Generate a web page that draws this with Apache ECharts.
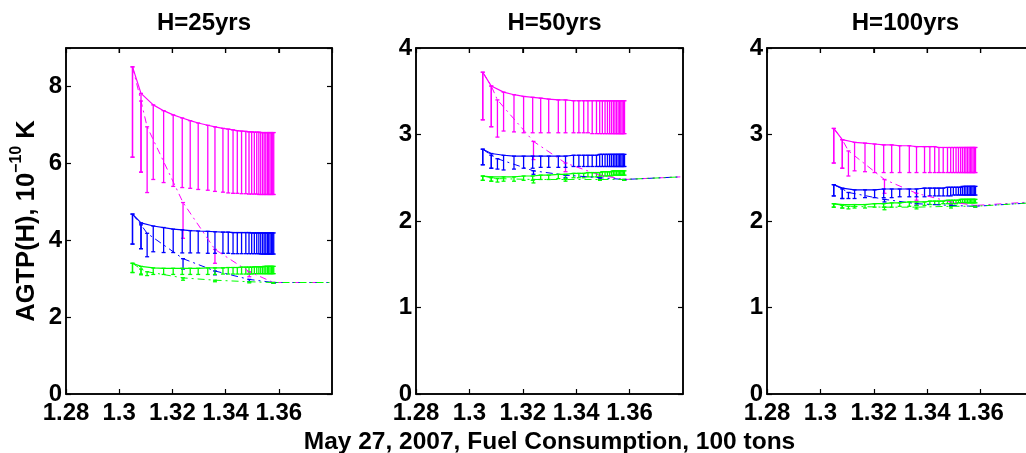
<!DOCTYPE html>
<html><head><meta charset="utf-8">
<script src="https://cdn.jsdelivr.net/npm/echarts@6/dist/echarts.min.js"></script>
<style>html,body{margin:0;padding:0;background:#fff}#c{width:1026px;height:453px}</style>
</head><body><div id="c"></div>
<script>
// ---- data ----
const titles = ['H=25yrs', 'H=50yrs', 'H=100yrs'];
const xTicks = [1.28, 1.30, 1.32, 1.34, 1.36];
// x positions of the solid (error-bar) series
const xs = [1.3050, 1.3082, 1.3128, 1.3167, 1.3203, 1.3237, 1.3267, 1.3297, 1.3333, 1.3360,
            1.3390, 1.3410, 1.3428, 1.3444, 1.3460, 1.3476, 1.3488, 1.3498, 1.3508, 1.3517,
            1.3525, 1.3532, 1.3539, 1.3545, 1.3551, 1.3557, 1.3562, 1.3567, 1.3572, 1.3577,
            1.3581];
// x positions of the dash-dot series
const xd = [1.3050, 1.3082, 1.3105, 1.3240, 1.3360, 1.3489, 1.3580, 1.3790];

// H=25
const p25MagHi = [8.51, 7.82, 7.52, 7.37, 7.26, 7.18, 7.11, 7.05, 6.99, 6.95,
                  6.91, 6.89, 6.87, 6.85, 6.84, 6.83, 6.82, 6.82, 6.81, 6.81,
                  6.81, 6.80, 6.80, 6.80, 6.80, 6.80, 6.80, 6.80, 6.80, 6.80, 6.80];
const p25MagLo = [6.16, 5.77, 5.58, 5.50, 5.40, 5.37, 5.35, 5.32, 5.30, 5.27,
                  5.25, 5.23, 5.22, 5.22, 5.21, 5.21, 5.20, 5.20, 5.20, 5.20,
                  5.19, 5.19, 5.19, 5.19, 5.19, 5.19, 5.19, 5.19, 5.19, 5.19, 5.19];
const p25BluHi = [4.68, 4.45, 4.37, 4.33, 4.29, 4.27, 4.25, 4.24, 4.23, 4.22,
                  4.21, 4.21, 4.20, 4.20, 4.20, 4.20, 4.20, 4.19, 4.19, 4.19,
                  4.19, 4.19, 4.19, 4.19, 4.19, 4.19, 4.19, 4.19, 4.19, 4.19, 4.19];
const p25BluLo = [3.90, 3.78, 3.70, 3.68, 3.68, 3.67, 3.67, 3.67, 3.66, 3.66,
                  3.66, 3.66, 3.65, 3.65, 3.65, 3.65, 3.65, 3.65, 3.65, 3.65,
                  3.65, 3.64, 3.64, 3.64, 3.64, 3.64, 3.64, 3.64, 3.64, 3.64, 3.64];
const p25GrnHi = [3.40, 3.32, 3.28, 3.27, 3.27, 3.27, 3.27, 3.27, 3.28, 3.28,
                  3.28, 3.29, 3.29, 3.29, 3.30, 3.30, 3.30, 3.30, 3.31, 3.31,
                  3.31, 3.31, 3.31, 3.32, 3.32, 3.32, 3.32, 3.32, 3.32, 3.32, 3.32];
const p25GrnLo = [3.16, 3.12, 3.11, 3.11, 3.11, 3.11, 3.11, 3.11, 3.11, 3.11,
                  3.12, 3.12, 3.12, 3.12, 3.12, 3.12, 3.12, 3.12, 3.13, 3.13,
                  3.13, 3.13, 3.13, 3.13, 3.13, 3.13, 3.13, 3.13, 3.13, 3.13, 3.13];
const p25MagD   = [8.51, 7.62, 6.95, 4.98, 3.76, 3.18, 2.90, 2.90];
const p25MagDLo = [6.16, 5.77, 5.24, 4.05, 3.40, 3.05, 2.88, 2.90];
const p25BluD   = [4.68, 4.40, 4.18, 3.52, 3.20, 2.98, 2.90, 2.90];
const p25BluDLo = [3.90, 3.78, 3.57, 3.25, 3.10, 2.92, 2.88, 2.90];
const p25GrnD   = [3.40, 3.25, 3.18, 3.02, 2.96, 2.92, 2.90, 2.90];
const p25GrnDLo = [3.16, 3.10, 3.08, 2.96, 2.92, 2.89, 2.88, 2.90];

// H=50
const p50MagHi = [3.72, 3.56, 3.49, 3.46, 3.44, 3.43, 3.42, 3.41, 3.40, 3.40,
                  3.39, 3.39, 3.39, 3.39, 3.39, 3.39, 3.39, 3.39, 3.39, 3.39,
                  3.39, 3.39, 3.39, 3.39, 3.39, 3.39, 3.39, 3.39, 3.39, 3.39, 3.39];
const p50MagLo = [3.17, 3.09, 3.04, 3.03, 3.02, 3.02, 3.02, 3.02, 3.02, 3.02,
                  3.02, 3.02, 3.02, 3.02, 3.01, 3.01, 3.01, 3.01, 3.01, 3.01,
                  3.01, 3.01, 3.01, 3.01, 3.01, 3.01, 3.01, 3.01, 3.01, 3.01, 3.01];
const p50BluHi = [2.83, 2.78, 2.76, 2.75, 2.75, 2.75, 2.75, 2.75, 2.75, 2.75,
                  2.76, 2.76, 2.76, 2.76, 2.76, 2.76, 2.77, 2.77, 2.77, 2.77,
                  2.77, 2.77, 2.77, 2.77, 2.77, 2.77, 2.77, 2.77, 2.77, 2.77, 2.77];
const p50BluLo = [2.65, 2.61, 2.59, 2.60, 2.61, 2.61, 2.62, 2.62, 2.62, 2.62,
                  2.63, 2.63, 2.63, 2.63, 2.63, 2.63, 2.63, 2.63, 2.63, 2.63,
                  2.63, 2.63, 2.63, 2.63, 2.63, 2.63, 2.63, 2.63, 2.63, 2.63, 2.63];
const p50GrnHi = [2.52, 2.51, 2.51, 2.51, 2.52, 2.52, 2.53, 2.53, 2.54, 2.54,
                  2.55, 2.55, 2.55, 2.56, 2.56, 2.56, 2.56, 2.57, 2.57, 2.57,
                  2.57, 2.57, 2.58, 2.58, 2.58, 2.58, 2.58, 2.58, 2.58, 2.58, 2.58];
const p50GrnLo = [2.47, 2.46, 2.46, 2.46, 2.47, 2.47, 2.48, 2.48, 2.49, 2.49,
                  2.50, 2.50, 2.50, 2.51, 2.51, 2.51, 2.51, 2.52, 2.52, 2.52,
                  2.52, 2.52, 2.53, 2.53, 2.53, 2.53, 2.53, 2.53, 2.53, 2.53, 2.53];
const p50MagD   = [3.72, 3.56, 3.40, 2.92, 2.67, 2.53, 2.48, 2.51];
const p50MagDLo = [3.17, 3.09, 2.97, 2.71, 2.57, 2.49, 2.47, 2.51];
const p50BluD   = [2.83, 2.76, 2.72, 2.58, 2.53, 2.50, 2.48, 2.51];
const p50BluDLo = [2.65, 2.61, 2.60, 2.54, 2.50, 2.48, 2.47, 2.51];
const p50GrnD   = [2.52, 2.50, 2.49, 2.48, 2.48, 2.48, 2.48, 2.51];
const p50GrnDLo = [2.47, 2.46, 2.45, 2.44, 2.46, 2.47, 2.47, 2.51];

// H=100
const p100MagHi = [3.07, 2.94, 2.91, 2.90, 2.89, 2.88, 2.88, 2.87, 2.87, 2.86,
                   2.86, 2.86, 2.86, 2.85, 2.85, 2.85, 2.85, 2.85, 2.85, 2.85,
                   2.85, 2.85, 2.85, 2.85, 2.85, 2.85, 2.85, 2.85, 2.85, 2.85, 2.85];
const p100MagLo = [2.67, 2.61, 2.58, 2.57, 2.56, 2.56, 2.56, 2.56, 2.56, 2.56,
                   2.56, 2.56, 2.56, 2.56, 2.56, 2.56, 2.56, 2.56, 2.56, 2.56,
                   2.56, 2.56, 2.56, 2.56, 2.56, 2.56, 2.56, 2.56, 2.56, 2.56, 2.56];
const p100BluHi = [2.42, 2.38, 2.36, 2.36, 2.36, 2.37, 2.37, 2.37, 2.37, 2.37,
                   2.38, 2.38, 2.38, 2.38, 2.38, 2.39, 2.39, 2.39, 2.39, 2.39,
                   2.39, 2.40, 2.40, 2.40, 2.40, 2.40, 2.40, 2.40, 2.40, 2.40, 2.40];
const p100BluLo = [2.29, 2.26, 2.26, 2.27, 2.27, 2.27, 2.27, 2.28, 2.28, 2.28,
                   2.28, 2.29, 2.29, 2.29, 2.29, 2.29, 2.29, 2.30, 2.30, 2.30,
                   2.30, 2.30, 2.30, 2.30, 2.30, 2.30, 2.30, 2.30, 2.30, 2.30, 2.30];
const p100GrnHi = [2.20, 2.19, 2.19, 2.19, 2.20, 2.20, 2.21, 2.21, 2.22, 2.22,
                   2.22, 2.23, 2.23, 2.23, 2.23, 2.24, 2.24, 2.24, 2.24, 2.24,
                   2.25, 2.25, 2.25, 2.25, 2.25, 2.25, 2.25, 2.25, 2.25, 2.25, 2.25];
const p100GrnLo = [2.16, 2.15, 2.15, 2.15, 2.16, 2.16, 2.16, 2.17, 2.17, 2.18,
                   2.18, 2.19, 2.19, 2.19, 2.20, 2.20, 2.20, 2.20, 2.20, 2.21,
                   2.21, 2.21, 2.21, 2.21, 2.21, 2.21, 2.21, 2.21, 2.21, 2.21, 2.21];
const p100MagD   = [3.07, 2.94, 2.81, 2.48, 2.32, 2.22, 2.18, 2.22];
const p100MagDLo = [2.67, 2.61, 2.52, 2.32, 2.24, 2.19, 2.17, 2.22];
const p100BluD   = [2.42, 2.37, 2.33, 2.25, 2.20, 2.18, 2.17, 2.21];
const p100BluDLo = [2.29, 2.26, 2.26, 2.22, 2.18, 2.17, 2.16, 2.21];
const p100GrnD   = [2.20, 2.18, 2.17, 2.16, 2.16, 2.17, 2.17, 2.21];
const p100GrnDLo = [2.16, 2.15, 2.14, 2.13, 2.14, 2.15, 2.16, 2.21];

// ---- chart ----
const FONT = 'Liberation Sans';
const MAG = '#ff00ff', BLU = '#0000ff', GRN = '#00ff00';
const panels = [
  { left: 66,  width: 266, ymax: 9, yint: 2,
    sets: [[MAG, p25MagHi, p25MagLo, p25MagD, p25MagDLo], [BLU, p25BluHi, p25BluLo, p25BluD, p25BluDLo], [GRN, p25GrnHi, p25GrnLo, p25GrnD, p25GrnDLo]] },
  { left: 416, width: 267, ymax: 4, yint: 1,
    sets: [[MAG, p50MagHi, p50MagLo, p50MagD, p50MagDLo], [BLU, p50BluHi, p50BluLo, p50BluD, p50BluDLo], [GRN, p50GrnHi, p50GrnLo, p50GrnD, p50GrnDLo]] },
  { left: 767, width: 267, ymax: 4, yint: 1,
    sets: [[MAG, p100MagHi, p100MagLo, p100MagD, p100MagDLo], [BLU, p100BluHi, p100BluLo, p100BluD, p100BluDLo], [GRN, p100GrnHi, p100GrnLo, p100GrnD, p100GrnDLo]] }
];
const TOP = 48, H = 346;
const axisLine = () => ({ show: true, onZero: false, lineStyle: { color: '#000', width: 1.5 } });
const tick = () => ({ show: true, inside: true, length: 5, lineStyle: { color: '#000', width: 1.2 } });
const lbl = () => ({ color: '#000', fontFamily: FONT, fontWeight: 'bold', fontSize: 24 });

function fmtX(v) {
  const r = Math.round(v * 100) / 100;
  if (!xTicks.some(t => Math.abs(t - r) < 1e-6)) return '';
  return String(parseFloat(r.toFixed(2)));
}

const grid = [], xAxis = [], yAxis = [], series = [], title = [];
panels.forEach((p, i) => {
  grid.push({ left: p.left, top: TOP, width: p.width, height: H, containLabel: false, outerBoundsMode: 'none',
    show: true, borderColor: '#000', borderWidth: 1.5, backgroundColor: 'transparent' });
  title.push({ text: titles[i], left: p.left + p.width / 2, top: 6, textAlign: 'center',
    textStyle: { fontFamily: FONT, fontWeight: 'bold', fontSize: 24, color: '#000' } });
  xAxis.push({ type: 'value', gridIndex: i, position: 'bottom', min: 1.28, max: 1.38, interval: 0.02,
    axisLine: axisLine(), axisTick: tick(), splitLine: { show: false },
    axisLabel: Object.assign({ margin: 7, formatter: fmtX, showMaxLabel: false }, lbl()),
    name: i === 1 ? 'May 27, 2007, Fuel Consumption, 100 tons' : '',
    nameLocation: 'middle', nameGap: 31,
    nameTextStyle: { fontFamily: FONT, fontWeight: 'bold', fontSize: 24.5, color: '#000' } });
  xAxis.push({ type: 'value', gridIndex: i, position: 'top', min: 1.28, max: 1.38, interval: 0.02,
    axisLine: axisLine(), axisTick: tick(), axisLabel: { show: false }, splitLine: { show: false } });
  yAxis.push({ type: 'value', gridIndex: i, position: 'left', min: 0, max: p.ymax, interval: p.yint,
    axisLine: axisLine(), axisTick: tick(), splitLine: { show: false },
    axisLabel: Object.assign({ margin: 4, formatter: v => (Math.abs(v / p.yint - Math.round(v / p.yint)) < 1e-6 ? String(v) : '') }, lbl()),
    name: i === 0 ? '{m|AGTP(H), 10}{s|\u221210}{m| K}' : '',
    nameLocation: 'middle', nameGap: 26, nameRotate: 90,
    nameTextStyle: { rich: {
      m: { fontFamily: FONT, fontWeight: 'bold', fontSize: 25.5, color: '#000', lineHeight: 31, verticalAlign: 'bottom' },
      s: { fontFamily: FONT, fontWeight: 'bold', fontSize: 16, color: '#000', lineHeight: 19, verticalAlign: 'top' } } } });
  yAxis.push({ type: 'value', gridIndex: i, position: 'right', min: 0, max: p.ymax, interval: p.yint,
    axisLine: axisLine(), axisTick: tick(), axisLabel: { show: false }, splitLine: { show: false } });

  const ax = { xAxisIndex: 2 * i, yAxisIndex: 2 * i };
  // tick marks along the top edge of the box
  series.push(Object.assign({
    type: 'custom', animation: false, silent: true, clip: false,
    data: xTicks.map(v => [v, p.ymax]), encode: { x: 0, y: 1 },
    renderItem: (params, api) => {
      const c = api.coord([api.value(0), api.value(1)]);
      return { type: 'line', shape: { x1: c[0], y1: c[1], x2: c[0], y2: c[1] + 5 }, style: { stroke: '#000', lineWidth: 1.2 } };
    }
  }, ax));

  p.sets.forEach(([color, hi, lo, dv, dlo]) => {
    const errSeries = (xv, top, bot, w) => Object.assign({
      type: 'custom', animation: false, silent: true,
      data: xv.map((x, k) => [x, top[k], bot[k]]),
      encode: { x: 0, y: [1, 2] },
      renderItem: (params, api) => {
        const x = api.value(0), a = api.value(1), b = api.value(2);
        if (Math.abs(a - b) < 0.004) return null;
        const pa = api.coord([x, a]), pb = api.coord([x, b]);
        const st = { stroke: color, lineWidth: w };
        return { type: 'group', children: [
          { type: 'line', shape: { x1: pa[0], y1: pa[1], x2: pb[0], y2: pb[1] }, style: st },
          { type: 'line', shape: { x1: pa[0] - 2, y1: pa[1], x2: pa[0] + 2, y2: pa[1] }, style: st },
          { type: 'line', shape: { x1: pb[0] - 2, y1: pb[1], x2: pb[0] + 2, y2: pb[1] }, style: st }
        ] };
      }
    }, ax);
    series.push(Object.assign({ type: 'line', animation: false, silent: true, showSymbol: false,
      data: xs.map((x, k) => [x, hi[k]]), lineStyle: { color, width: 1.2 } }, ax));
    series.push(errSeries(xs, hi, lo, 1.3));
    series.push(Object.assign({ type: 'line', animation: false, silent: true, showSymbol: false,
      data: xd.map((x, k) => [x, dv[k]]), lineStyle: { color, width: 1, type: [7, 4, 2, 4] } }, ax));
    series.push(errSeries(xd, dv, dlo, 1.3));
  });
});

const chart = echarts.init(document.getElementById('c'), null, { renderer: 'canvas' });
chart.setOption({ backgroundColor: '#fff', animation: false, title, grid, xAxis, yAxis, series });
</script>
</body></html>
